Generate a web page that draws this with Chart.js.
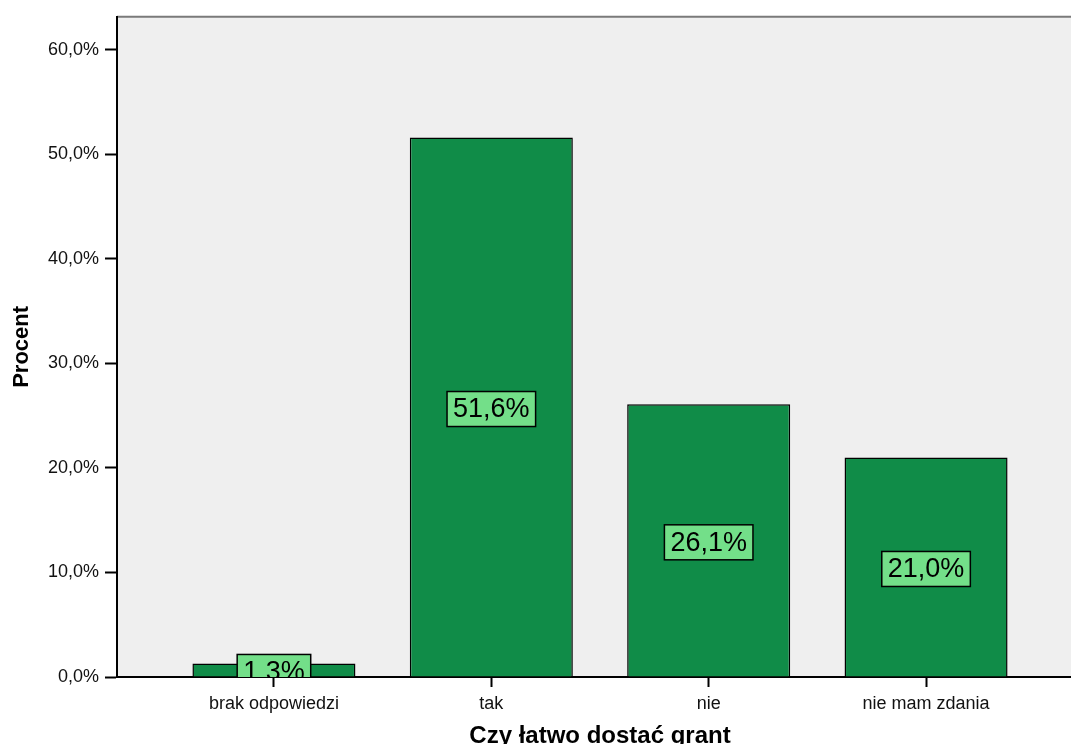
<!DOCTYPE html>
<html>
<head>
<meta charset="utf-8">
<script src="https://cdn.jsdelivr.net/npm/chart.js"></script>
<style>
html, body { margin: 0; padding: 0; background: #fff; overflow: hidden; width: 1071px; height: 744px; }
#wrap { width: 1095px; height: 744px; position: relative; }
</style>
</head>
<body>
<div id="wrap"><canvas id="chart"></canvas></div>
<script>
// donnees
const categories = ['brak odpowiedzi', 'tak', 'nie', 'nie mam zdania'];
const percents = [1.3, 51.6, 26.1, 21.0];
const yTicks = [0, 10, 20, 30, 40, 50, 60];

function fmt(v) {
    return v.toFixed(1).replace('.', ',') + '%';
}

Chart.defaults.font.family = 'Arial, "Liberation Sans", sans-serif';
Chart.defaults.color = '#111';

// fond gris de la zone de trace + ligne du haut
const plotBg = {
    id: 'plotBg',
    beforeDraw(chart) {
        const { ctx, chartArea: a } = chart;
        ctx.save();
        ctx.fillStyle = '#efefef';
        ctx.fillRect(a.left, a.top, a.right - a.left, a.bottom - a.top);
        ctx.strokeStyle = '#7a7a7a';
        ctx.lineWidth = 2;
        ctx.beginPath();
        ctx.moveTo(a.left, a.top);
        ctx.lineTo(a.right, a.top);
        ctx.stroke();
        ctx.restore();
    }
};

// etiquettes des valeurs dans les barres
const boxLabels = {
    id: 'boxLabels',
    afterDatasetsDraw(chart) {
        const { ctx, chartArea: a } = chart;
        const meta = chart.getDatasetMeta(0);
        ctx.save();
        ctx.beginPath();
        ctx.rect(a.left, a.top, a.right - a.left, a.bottom - a.top);
        ctx.clip();
        ctx.font = '27px Arial, "Liberation Sans", sans-serif';
        ctx.textAlign = 'center';
        ctx.textBaseline = 'middle';
        meta.data.forEach((bar, i) => {
            const txt = fmt(percents[i]);
            const w = ctx.measureText(txt).width + 12;
            const h = 35;
            const cx = bar.x;
            const cy = (bar.y + bar.base) / 2 + 2;
            ctx.fillStyle = '#73df89';
            ctx.fillRect(cx - w / 2, cy - h / 2, w, h);
            ctx.strokeStyle = '#000';
            ctx.lineWidth = 1.5;
            ctx.strokeRect(cx - w / 2, cy - h / 2, w, h);
            ctx.fillStyle = '#000';
            ctx.fillText(txt, cx, cy + 1);
        });
        ctx.restore();
    }
};

const ctx = document.getElementById('chart').getContext('2d');
new Chart(ctx, {
    type: 'bar',
    data: {
        datasets: [{
            data: percents.map((v, i) => ({ x: i, y: v })),
            backgroundColor: '#108c48',
            borderColor: '#000',
            borderWidth: 1.5,
            categoryPercentage: 0.75,
            barPercentage: 1
        }]
    },
    options: {
        responsive: true,
        maintainAspectRatio: false,
        animation: false,
        layout: { padding: { top: 15, right: 12, left: 0, bottom: 0 } },
        plugins: {
            legend: { display: false },
            tooltip: { enabled: false }
        },
        scales: {
            x: {
                type: 'linear',
                min: -0.722,
                max: 3.722,
                offset: false,
                afterBuildTicks: s => { s.ticks = categories.map((c, i) => ({ value: i })); },
                afterFit: s => { s.height = 67; },
                grid: { offset: false, drawOnChartArea: false, drawTicks: true, tickLength: 10, tickColor: '#000', tickWidth: 2 },
                border: { display: true, color: '#000', width: 2 },
                ticks: {
                    padding: 6,
                    font: { size: 18 },
                    color: '#111',
                    maxRotation: 0,
                    autoSkip: false,
                    callback: v => categories[v]
                },
                title: {
                    display: true,
                    text: 'Czy łatwo dostać grant',
                    font: { size: 24, weight: 'bold', lineHeight: 1 },
                    color: '#000',
                    padding: { top: 0, bottom: -4 }
                }
            },
            y: {
                min: 0,
                max: 63.15,
                afterBuildTicks: s => { s.ticks = yTicks.map(v => ({ value: v })); },
                afterFit: s => { s.width = 117; },
                grid: { drawOnChartArea: false, drawTicks: true, tickLength: 12, tickColor: '#000', tickWidth: 2 },
                border: { display: true, color: '#000', width: 2 },
                ticks: {
                    padding: 6,
                    font: { size: 18 },
                    color: '#111',
                    callback: v => fmt(v)
                },
                title: {
                    display: true,
                    text: 'Procent',
                    font: { size: 22, weight: 'bold', lineHeight: 1.2 },
                    color: '#000',
                    padding: { top: 9, bottom: 0 }
                }
            }
        }
    },
    plugins: [plotBg, boxLabels]
});
</script>
</body>
</html>
